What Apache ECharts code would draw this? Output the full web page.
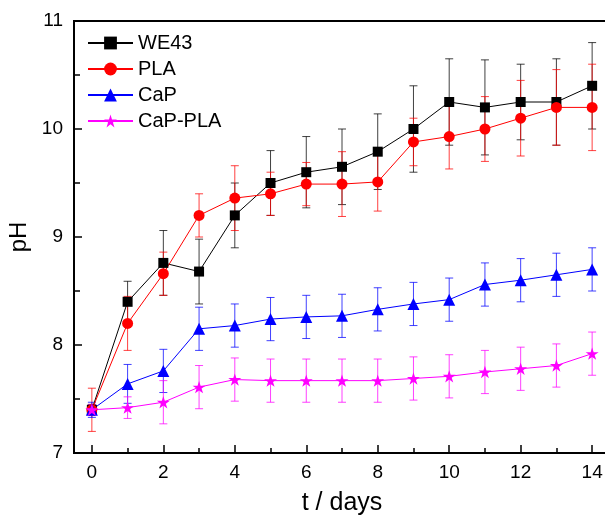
<!DOCTYPE html>
<html>
<head>
<meta charset="utf-8">
<script src="https://cdn.jsdelivr.net/npm/echarts@6/dist/echarts.min.js"></script>
<style>html,body{margin:0;padding:0;background:#fff}#c{width:605px;height:519px}</style>
</head>
<body>
<div id="c"></div>
<script>
const days = [0, 1, 2, 3, 4, 5, 6, 7, 8, 9, 10, 11, 12, 13, 14];
const xTickLabels = [0, 2, 4, 6, 8, 10, 12, 14];
const seriesNames = ['WE43', 'PLA', 'CaP', 'CaP-PLA'];
const we43 = [7.4, 8.4, 8.76, 8.68, 9.2, 9.5, 9.6, 9.65, 9.79, 10.0, 10.25, 10.2, 10.25, 10.25, 10.4];
const we43Err = [0.05, 0.19, 0.3, 0.3, 0.3, 0.3, 0.33, 0.35, 0.35, 0.4, 0.4, 0.44, 0.35, 0.4, 0.4];
const pla = [7.4, 8.2, 8.66, 9.2, 9.36, 9.4, 9.49, 9.49, 9.51, 9.88, 9.93, 10.0, 10.1, 10.2, 10.2];
const plaErr = [0.2, 0.25, 0.2, 0.2, 0.3, 0.2, 0.2, 0.3, 0.27, 0.22, 0.3, 0.3, 0.35, 0.35, 0.4];
const cap = [7.4, 7.64, 7.76, 8.15, 8.18, 8.24, 8.26, 8.27, 8.33, 8.38, 8.42, 8.56, 8.6, 8.65, 8.7];
const capErr = [0.07, 0.18, 0.2, 0.2, 0.2, 0.2, 0.2, 0.2, 0.2, 0.2, 0.2, 0.2, 0.2, 0.2, 0.2];
const capPla = [7.4, 7.42, 7.47, 7.61, 7.68, 7.67, 7.67, 7.67, 7.67, 7.69, 7.71, 7.75, 7.78, 7.81, 7.92];
const capPlaErr = [0.05, 0.1, 0.2, 0.2, 0.2, 0.2, 0.2, 0.2, 0.2, 0.2, 0.2, 0.2, 0.2, 0.2, 0.2];

const FONT = '"Liberation Sans", Arial, sans-serif';
const starPath = 'path://M50,0 L61.2,34.5 L97.6,34.5 L68.2,55.9 L79.4,90.5 L50,69.1 L20.6,90.5 L31.8,55.9 L2.4,34.5 L38.8,34.5 Z';

const defs = [
  { name: seriesNames[0], vals: we43, errs: we43Err, color: '#000000', symbol: 'rect', size: 10 },
  { name: seriesNames[1], vals: pla, errs: plaErr, color: '#ff0000', symbol: 'circle', size: 11 },
  { name: seriesNames[2], vals: cap, errs: capErr, color: '#0000ff', symbol: 'triangle', size: 12 },
  { name: seriesNames[3], vals: capPla, errs: capPlaErr, color: '#ff00ff', symbol: starPath, size: 13 }
];

function errRender(color) {
  return function (params, api) {
    const x = api.value(0), y = api.value(1), e = api.value(2);
    const hi = api.coord([x, y + e]);
    const lo = api.coord([x, y - e]);
    const hw = 4;
    const style = { stroke: color, lineWidth: 1, opacity: 0.75 };
    return {
      type: 'group',
      children: [
        { type: 'line', shape: { x1: hi[0], y1: hi[1], x2: lo[0], y2: lo[1] }, style: style },
        { type: 'line', shape: { x1: hi[0] - hw, y1: hi[1], x2: hi[0] + hw, y2: hi[1] }, style: style },
        { type: 'line', shape: { x1: lo[0] - hw, y1: lo[1], x2: lo[0] + hw, y2: lo[1] }, style: style }
      ]
    };
  };
}

const series = [];
defs.forEach(function (d) {
  series.push({
    type: 'custom',
    name: d.name + ' err',
    renderItem: errRender(d.color),
    encode: { x: 0, y: 1 },
    data: days.map(function (t, i) { return [t, d.vals[i], d.errs[i]]; }),
    silent: true,
    z: 2
  });
  series.push({
    type: 'line',
    name: d.name,
    data: days.map(function (t, i) { return [t, d.vals[i]]; }),
    symbol: d.symbol,
    symbolSize: d.size,
    symbolKeepAspect: true,
    showAllSymbol: true,
    color: d.color,
    itemStyle: { color: d.color, borderWidth: 0 },
    lineStyle: { color: d.color, width: 1 },
    z: 3
  });
});

const chart = echarts.init(document.getElementById('c'), null, { renderer: 'canvas' });
chart.setOption({
  animation: false,
  backgroundColor: '#ffffff',
  textStyle: { fontFamily: FONT, color: '#000' },
  grid: { left: 74, top: 21, width: 536, height: 432, containLabel: false, outerBoundsMode: 'none', show: true, borderColor: '#000', borderWidth: 2, backgroundColor: 'transparent' },
  legend: {
    data: seriesNames,
    orient: 'vertical',
    left: 87,
    top: 33,
    padding: 0,
    itemGap: 6,
    itemWidth: 45,
    itemHeight: 16,
    textStyle: { fontFamily: FONT, fontSize: 20, color: '#000' }
  },
  xAxis: [{
    type: 'value',
    min: -0.5,
    max: 14.5,
    position: 'bottom',
    name: 't / days',
    nameLocation: 'middle',
    nameGap: 38,
    nameTextStyle: { fontFamily: FONT, fontSize: 25, color: '#000' },
    axisLine: { show: true, onZero: false, lineStyle: { color: '#000', width: 2 } },
    axisTick: { show: true, inside: true, length: 8, lineStyle: { color: '#000', width: 1.5 }, customValues: xTickLabels },
    axisLabel: { show: true, fontFamily: FONT, fontSize: 19, color: '#000', margin: 10, customValues: xTickLabels },
    splitLine: { show: false }
  }, {
    type: 'value',
    min: -0.5,
    max: 14.5,
    position: 'bottom',
    offset: 0,
    axisLine: { show: false, onZero: false },
    axisTick: { show: true, inside: true, length: 5, lineStyle: { color: '#000', width: 1.5 }, customValues: days.filter(function (d) { return d % 2 === 1; }) },
    axisLabel: { show: false },
    splitLine: { show: false }
  }],
  yAxis: {
    type: 'value',
    min: 7,
    max: 11,
    interval: 1,
    name: 'pH',
    nameLocation: 'middle',
    nameGap: 36,
    nameTextStyle: { fontFamily: FONT, fontSize: 24, color: '#000' },
    axisLine: { show: true, onZero: false, lineStyle: { color: '#000', width: 2 } },
    axisTick: { show: true, inside: true, length: 8, lineStyle: { color: '#000', width: 1.5 } },
    minorTick: { show: true, splitNumber: 2, length: 6, lineStyle: { color: '#000', width: 1.5 } },
    axisLabel: { fontFamily: FONT, fontSize: 19, color: '#000', margin: 11 },
    splitLine: { show: false }
  },
  series: series
});
</script>
</body>
</html>
